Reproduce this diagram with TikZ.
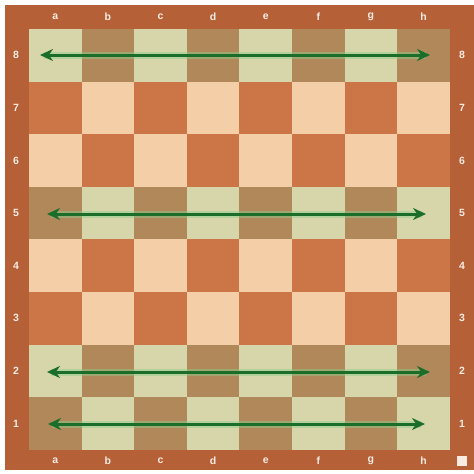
\documentclass[tikz,border=0pt]{standalone}
\usepackage{fontspec}
\setmainfont{Liberation Sans}
\usetikzlibrary{arrows.meta}
\definecolor{frame}{RGB}{182,96,56}
\definecolor{lightsq}{RGB}{243,206,166}
\definecolor{darksq}{RGB}{204,118,72}
\definecolor{lightgr}{RGB}{214,214,170}
\definecolor{darkgr}{RGB}{176,136,90}
\definecolor{arrowgr}{RGB}{26,110,42}
\definecolor{glowgr}{RGB}{140,205,140}
\definecolor{lbl}{RGB}{248,236,226}
\tikzset{
  lab/.style={text=lbl, font=\bfseries\fontsize{10.5}{11}\selectfont, inner sep=0pt},
  movearrow/.style={draw=arrowgr, line width=3pt, {Stealth[length=13pt,width=12pt]}-{Stealth[length=13pt,width=12pt]}},
  glow/.style={draw=glowgr, line width=7pt, opacity=0.45, shorten <=4pt, shorten >=4pt}
}
\begin{document}
\begin{tikzpicture}[x=1pt,y=-1pt]
\useasboundingbox (0,0) rectangle (474,474);
\fill[white] (0,0) rectangle (474,474);
\fill[frame] (5,5) rectangle (474,470);
\def\sq{52.6}
\foreach \c in {0,...,7}{
  \foreach \r in {1,...,8}{
    \pgfmathtruncatemacro{\parity}{mod(\c+\r,2)}
    \pgfmathsetmacro{\xx}{29+\c*\sq}
    \pgfmathsetmacro{\yy}{29+(8-\r)*\sq}
    \ifnum\r=8 \def\hl{1}\else\ifnum\r=5 \def\hl{1}\else\ifnum\r=2 \def\hl{1}\else\ifnum\r=1 \def\hl{1}\else\def\hl{0}\fi\fi\fi\fi
    \ifnum\parity=0
      \ifnum\hl=1 \def\col{lightgr}\else\def\col{lightsq}\fi
    \else
      \ifnum\hl=1 \def\col{darkgr}\else\def\col{darksq}\fi
    \fi
    \fill[\col] (\xx,\yy) rectangle ++(\sq,\sq);
  }
}
% file labels
\foreach \f [count=\i from 0] in {a,b,c,d,e,f,g,h}{
  \pgfmathsetmacro{\fx}{29+\i*\sq+26.3}
  \node[lab] (top\f) at (\fx,17) {\f};
  \node[lab] (bot\f) at (\fx,461) {\f};
}
% rank labels
\foreach \r in {1,...,8}{
  \pgfmathsetmacro{\ry}{29+(8-\r)*\sq+26.3}
  \node[lab] (left\r) at (16,\ry) {\r};
  \node[lab] (right\r) at (462,\ry) {\r};
}
\node[fill=lbl, minimum size=10pt, inner sep=0pt] (corner) at (462,461) {};
% arrow end points
\coordinate (a8) at (40,55);
\coordinate (h8) at (430,55);
\coordinate (a5) at (47,214);
\coordinate (h5) at (426,214);
\coordinate (a2) at (47,372);
\coordinate (h2) at (430,372);
\coordinate (a1) at (48,424);
\coordinate (h1) at (425,424);
\foreach \s/\e in {a8/h8,a5/h5,a2/h2,a1/h1}{
  \draw[glow] (\s) -- (\e);
  \draw[movearrow] (\s) -- (\e);
}
\end{tikzpicture}
\end{document}
